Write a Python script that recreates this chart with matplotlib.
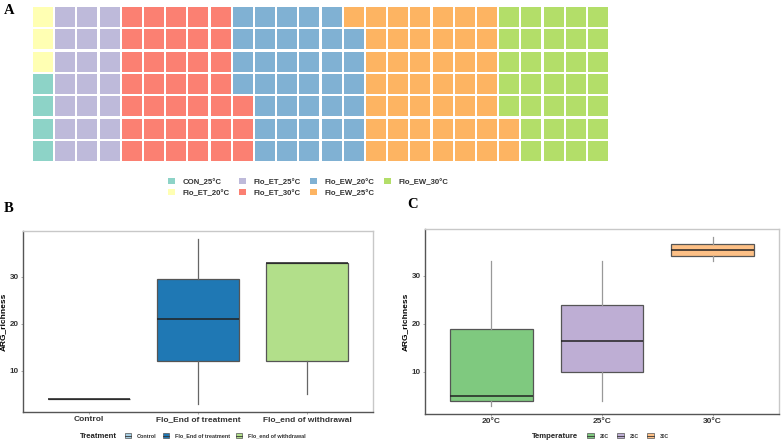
import matplotlib
matplotlib.use("Agg")
import matplotlib.pyplot as plt
from matplotlib.patches import Rectangle, Patch
from matplotlib.lines import Line2D

plt.rcParams['font.family'] = ['Liberation Sans', 'DejaVu Sans']

# waffle data (cells per group, filled bottom-up column by column)
groups = ['CON_25°C', 'Flo_ET_20°C', 'Flo_ET_25°C', 'Flo_ET_30°C',
          'Flo_EW_20°C', 'Flo_EW_25°C', 'Flo_EW_30°C']
counts = [4, 3, 21, 38, 38, 45, 33]
waffle_colors = ['#8DD3C7', '#FFFFB3', '#BEBADA', '#FB8072',
                 '#80B1D3', '#FDB462', '#B3DE69']
n_rows = 7

# panel B box stats
treat = ['Control', 'Flo_End of treatment', 'Flo_end of withdrawal']
treat_min = [4, 3, 5]
treat_q1 = [4, 12, 12]
treat_med = [4, 21, 33]
treat_q3 = [4, 29.5, 33]
treat_max = [4, 38, 33]
treat_colors = ['#A6CEE3', '#1F78B4', '#B2DF8A']

# panel C box stats
temps = ['20°C', '25°C', '30°C']
temp_keys = ['20C', '25C', '30C']
temp_min = [3, 4, 33]
temp_q1 = [4, 10, 34.1]
temp_med = [5, 16.5, 35.4]
temp_q3 = [19, 24, 36.6]
temp_max = [33, 33, 38]
temp_colors = ['#7FC97F', '#BEAED4', '#FDC086']

W, H = 784, 442
fig = plt.figure(figsize=(W / 100, H / 100), dpi=100)


def box(l, t, r, b):
    return [l / W, 1 - b / H, (r - l) / W, (b - t) / H]


# ---- A: waffle ----
axA = fig.add_axes(box(32, 6, 609, 162))
n_cols = sum(counts) // n_rows
idx = 0
for g, n in enumerate(counts):
    for k in range(n):
        c = idx // n_rows
        r = idx % n_rows
        axA.add_patch(Rectangle((c + 0.05, r + 0.05), 0.9, 0.9,
                                facecolor=waffle_colors[g], edgecolor='none'))
        idx += 1
axA.set_xlim(0, n_cols)
axA.set_ylim(0, n_rows)
axA.axis('off')

handlesA = [Patch(facecolor=col, edgecolor='none') for col in waffle_colors]
fig.legend(handlesA, groups, ncol=4, loc='upper left',
           bbox_to_anchor=(168 / W, 1 - 178 / H), frameon=False,
           prop={'size': 5.6, 'weight': 'bold'}, labelcolor='#333333',
           handlelength=0.9, handleheight=0.9, handletextpad=1.0,
           columnspacing=1.15, labelspacing=0.4, borderpad=0,
           borderaxespad=0)


def boxpanel(ax, labels, lo, q1, med, q3, hi, colors, whisk_col):
    stats = []
    for i in range(len(labels)):
        stats.append({'med': med[i], 'q1': q1[i], 'q3': q3[i],
                      'whislo': lo[i], 'whishi': hi[i], 'fliers': []})
    bp = ax.bxp(stats, positions=range(1, len(labels) + 1), widths=0.75,
                patch_artist=True, showcaps=False, showfliers=False)
    for p, col in zip(bp['boxes'], colors):
        p.set_facecolor(col)
        p.set_edgecolor('#555555')
        p.set_linewidth(0.9)
    for m in bp['medians']:
        m.set_color('#222222')
        m.set_linewidth(1.1)
    for w in bp['whiskers']:
        w.set_color(whisk_col)
        w.set_linewidth(0.9)
    ax.set_xlim(0.4, len(labels) + 0.6)
    ax.set_ylim(1.25, 39.75)
    ax.set_yticks([10, 20, 30])
    ax.set_xticks(range(1, len(labels) + 1))
    ax.set_xticklabels(labels, fontsize=6, fontweight='bold', color='#333333')
    for t in ax.get_yticklabels():
        t.set_fontsize(5.8)
        t.set_fontweight('bold')
        t.set_color('#333333')
    ax.tick_params(length=1.5, width=0.5, color='#888888', pad=1.5)
    ax.set_ylabel('ARG_richness', fontsize=6, fontweight='bold', labelpad=2)
    ax.spines['left'].set_color('#555555')
    ax.spines['bottom'].set_color('#555555')
    ax.spines['top'].set_color('#c8c8c8')
    ax.spines['right'].set_color('#c8c8c8')
    for s in ax.spines.values():
        s.set_linewidth(1.0)


def key_handles(colors):
    hs = []
    for col in colors:
        hs.append((Patch(facecolor=col, edgecolor='#555555', linewidth=0.5),
                   Line2D([], [], color='#333333', linewidth=0.6)))
    return hs


# ---- B ----
axB = fig.add_axes(box(23, 231, 373, 412))
boxpanel(axB, treat, treat_min, treat_q1, treat_med, treat_q3, treat_max,
         treat_colors, '#666666')
fig.text(80 / W, 1 - 436 / H, 'Treatment', fontsize=5.6, fontweight='bold',
         va='center', ha='left', color='#222222')
fig.legend(key_handles(treat_colors), treat, ncol=3, loc='center left',
           bbox_to_anchor=(125 / W, 1 - 436 / H), frameon=False,
           prop={'size': 4, 'weight': 'bold'}, labelcolor='#333333',
           handlelength=1.0, handleheight=0.9, handletextpad=1.1,
           columnspacing=1.2, borderpad=0, borderaxespad=0)

# ---- C ----
axC = fig.add_axes(box(425, 229, 779, 414))
boxpanel(axC, temps, temp_min, temp_q1, temp_med, temp_q3, temp_max,
         temp_colors, '#999999')
fig.text(532 / W, 1 - 436 / H, 'Temperature', fontsize=5.6, fontweight='bold',
         va='center', ha='left', color='#222222')
fig.legend(key_handles(temp_colors), temp_keys, ncol=3, loc='center left',
           bbox_to_anchor=(587 / W, 1 - 436 / H), frameon=False,
           prop={'size': 3.5, 'weight': 'bold'}, labelcolor='#333333',
           handlelength=1.5, handleheight=1.2, handletextpad=1.2,
           columnspacing=1.6, borderpad=0, borderaxespad=0)

# panel letters
for lab, x, y in [('A', 4, 11), ('B', 4, 208), ('C', 407, 204)]:
    fig.text(x / W, 1 - y / H, lab, fontsize=10.5, fontweight='bold',
             family='Liberation Serif', va='center', ha='left')

fig.savefig('out.png', dpi=100)
